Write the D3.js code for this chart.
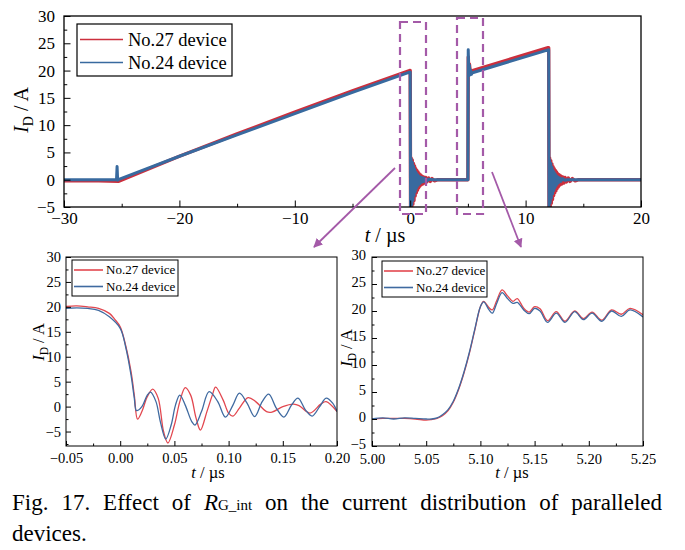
<!DOCTYPE html>
<html><head><meta charset="utf-8">
<script src="https://cdn.jsdelivr.net/npm/d3@7"></script>
<style>body{margin:0;background:#fff}svg{display:block}svg text{font-family:"Liberation Serif","Times New Roman",serif !important;fill:#000}</style>
</head><body><svg id="c" width="685" height="550" style="font-family:'Liberation Serif',serif"></svg>
<script>
// ---------- DATA ----------
const seriesNames = ["No.27 device", "No.24 device"];

// Top panel: t (µs), I_D (A)
const topT27 = [[-30,-0.2],[-27,-0.2],[-25.3,-0.3],[-20,4.3],[-15,8.4],[-10,12.4],[-5,16.3],[-0.05,20.0],
 [0,20.0],[0.03,-5],[0.08,4],[0.13,-5],[0.18,3.6],[0.23,-4.5],[0.28,3],[0.33,-3.8],[0.38,2.5],[0.43,-3],[0.48,2],
 [0.53,-2.4],[0.58,1.7],[0.63,-1.9],[0.68,1.4],[0.73,-1.5],[0.78,1.1],[0.83,-1.2],[0.88,0.9],[0.93,-1],[1,0.7],
 [1.08,-0.8],[1.16,0.5],[1.25,-0.6],[1.35,0.4],[1.45,-0.4],[1.6,0.3],[1.75,-0.3],[1.9,0.2],[2.1,-0.2],[2.4,0],[4.98,0],
 [5.0,0],[5.03,22.5],[5.08,19.5],[5.13,21.2],[5.2,19.9],[5.4,20.0],[11.95,24.2],
 [12.0,24.2],[12.03,-5],[12.08,4],[12.13,-5],[12.18,3.5],[12.23,-4.3],[12.28,2.9],[12.33,-3.6],[12.38,2.4],[12.43,-2.9],
 [12.48,2],[12.53,-2.4],[12.58,1.7],[12.63,-2],[12.68,1.4],[12.73,-1.6],[12.78,1.1],[12.83,-1.3],[12.9,0.9],[12.97,-1],
 [13.05,0.7],[13.13,-0.8],[13.22,0.5],[13.32,-0.6],[13.42,0.4],[13.55,-0.4],[13.7,0.3],[13.85,-0.3],[14.05,0.2],[14.3,-0.2],[14.6,0],[20,0]];
const topT24 = [[-30,0],[-27,0],[-25.45,0],[-25.4,2.4],[-25.35,-0.1],[-25.3,0],[-20,4.3],[-15,8.2],[-10,12.1],[-5,16],[-0.05,19.7],
 [0,19.7],[0.03,-5],[0.08,3.8],[0.13,-4.6],[0.18,3.2],[0.23,-3.8],[0.28,2.5],[0.33,-2.9],[0.38,1.9],[0.43,-2.2],[0.48,1.4],
 [0.53,-1.6],[0.58,1.1],[0.63,-1.2],[0.68,0.8],[0.73,-0.9],[0.78,0.6],[0.83,-0.7],[0.88,0.5],[0.93,-0.5],[0.98,0.4],
 [1.05,-0.4],[1.12,0.3],[1.2,-0.3],[1.3,0.2],[1.45,-0.2],[1.6,0.1],[2,0],[4.98,0],
 [5.0,0],[5.03,23.8],[5.08,19],[5.13,21],[5.18,19.2],[5.23,20.1],[5.3,19.3],[5.4,19.6],[11.95,23.8],
 [12.0,23.8],[12.03,-5],[12.08,3.6],[12.13,-4.2],[12.18,3],[12.23,-3.4],[12.28,2.3],[12.33,-2.6],[12.38,1.7],[12.43,-2],
 [12.48,1.3],[12.53,-1.5],[12.58,1],[12.63,-1.1],[12.68,0.7],[12.73,-0.8],[12.8,0.5],[12.87,-0.5],[12.95,0.3],[13.05,-0.3],
 [13.2,0.2],[13.4,-0.1],[13.6,0],[20,0]];

// Bottom-left panel (turn-off)
const offT27 = [[-0.05,20.1],[-0.04,20.2],[-0.03,20],[-0.02,19.7],[-0.01,18.7],[-0.005,17.5],[0,16],[0.005,12.3],[0.01,7],
 [0.013,2.3],[0.016,-2.5],[0.02,-1],[0.025,2],[0.03,3.5],[0.035,1.7],[0.04,-5],[0.044,-7.3],[0.05,-3.7],[0.055,1],
 [0.06,3.8],[0.065,2.3],[0.07,-2.3],[0.074,-4.7],[0.08,-1],[0.085,2.3],[0.088,3.9],[0.095,1.3],[0.1,-1.3],[0.104,-1.9],
 [0.11,-0.3],[0.118,1.8],[0.125,1],[0.135,-1],[0.14,-1.1],[0.15,0],[0.16,0.5],[0.165,0.2],[0.175,-1.3],[0.185,0.5],
 [0.19,1],[0.2,-1]];
const offT24 = [[-0.05,19.7],[-0.04,19.8],[-0.03,19.7],[-0.02,19.3],[-0.01,18],[0,15.7],[0.005,12],[0.01,6.3],[0.013,1.7],
 [0.015,-0.8],[0.02,0],[0.025,2.3],[0.028,2.9],[0.033,1],[0.037,-3],[0.042,-6.5],[0.047,-3.7],[0.051,0.3],[0.055,2.3],
 [0.06,0.3],[0.066,-3],[0.069,-3.7],[0.075,-1],[0.082,3],[0.09,1],[0.097,-2.1],[0.104,0.3],[0.11,2.7],[0.117,0.7],
 [0.124,-2],[0.131,1],[0.137,2.5],[0.144,-0.3],[0.151,-2.1],[0.158,0.3],[0.164,1.7],[0.171,-0.7],[0.177,-1.9],
 [0.184,0],[0.19,1.7],[0.196,0.7],[0.2,-1]];

// Bottom-right panel (turn-on)
const onT27 = [[5.00,0],[5.01,0.1],[5.02,0.1],[5.03,0.1],[5.04,0],[5.05,-0.2],[5.055,-0.1],[5.06,0.1],[5.065,0.6],
 [5.07,1.5],[5.075,3.1],[5.08,5.5],[5.085,8.6],[5.09,12.3],[5.095,16.6],[5.1,20.8],[5.103,21.8],[5.108,20.6],
 [5.111,20.2],[5.115,21.9],[5.12,23.9],[5.125,22.8],[5.13,21.8],[5.134,22.3],[5.14,20.5],[5.145,19.8],[5.15,20.8],
 [5.155,20.4],[5.162,18.2],[5.17,19.9],[5.178,18.1],[5.187,20.0],[5.195,18.6],[5.203,19.8],[5.212,18.3],[5.221,20.2],
 [5.23,19.4],[5.238,20.5],[5.25,19.3]];
const onT24 = [[5.00,0],[5.01,0.2],[5.02,0],[5.03,0.2],[5.04,0.1],[5.05,0],[5.055,0],[5.06,0.2],[5.065,0.8],
 [5.07,1.7],[5.075,3.3],[5.08,5.7],[5.085,8.8],[5.09,12.5],[5.095,16.8],[5.1,20.8],[5.103,21.7],[5.108,20.2],
 [5.111,19.6],[5.115,21.4],[5.12,23.4],[5.125,22.3],[5.13,21.4],[5.134,21.6],[5.14,20.2],[5.145,19.5],[5.15,20.5],
 [5.155,20.0],[5.162,17.9],[5.17,19.6],[5.178,17.9],[5.187,19.9],[5.195,18.4],[5.203,19.6],[5.212,18.1],[5.221,20.0],
 [5.23,19.0],[5.238,20.2],[5.25,18.9]];

const topXTicks = [-30,-20,-10,0,10,20];
const topYTicks = [-5,0,5,10,15,20,25,30];
const offXTicks = [-0.05,0,0.05,0.10,0.15,0.20];
const onXTicks = [5.00,5.05,5.10,5.15,5.20,5.25];
const botYTicksL = [-5,0,5,10,15,20,25,30];
const botYTicksR = [-5,0,5,10,15,20,25,30];
const captionWords = ["Fig.","17.","Effect","of","R","on","the","current","distribution","of","paralleled"];

// ---------- DRAW ----------
const FONT = "'Liberation Serif', 'Times New Roman', serif";
const svg = d3.select("#c");
const defs = svg.append("defs");
const PURPLE = "#a45aa8";

function panel(o) {
  const g = svg.append("g");
  const x = d3.scaleLinear().domain(o.xd).range([o.l, o.r]);
  const y = d3.scaleLinear().domain(o.yd).range([o.b, o.t]);
  const id = "clip" + o.name;
  defs.append("clipPath").attr("id", id).append("rect")
    .attr("x", o.l).attr("y", o.t).attr("width", o.r - o.l).attr("height", o.b - o.t);
  const line = d3.line().x(d => x(d[0])).y(d => y(d[1])).curve(o.curve || d3.curveLinear);
  const pg = g.append("g").attr("clip-path", `url(#${id})`);
  o.series.forEach(s => {
    pg.append("path").attr("d", line(s.data)).attr("fill", "none")
      .attr("stroke", s.color).attr("stroke-width", s.w).attr("stroke-linejoin", "round");
  });
  // axes
  g.append("g").attr("transform", `translate(0,${o.b})`)
    .call(d3.axisBottom(x).tickValues(o.xt).tickSize(-o.tk).tickPadding(o.tp).tickFormat(o.xf));
  g.append("g").attr("transform", `translate(0,${o.b})`)
    .call(d3.axisBottom(x).tickValues(o.xm).tickSize(-o.tk / 2).tickFormat(""));
  g.append("g").attr("class", "yax").attr("transform", `translate(${o.l},0)`)
    .call(d3.axisLeft(y).tickValues(o.yt).tickSize(-o.tk).tickPadding(o.tpy).tickFormat(d3.format("d")));
  g.append("g").attr("transform", `translate(${o.l},0)`)
    .call(d3.axisLeft(y).tickValues(o.ym).tickSize(-o.tk / 2).tickFormat(""));
  g.selectAll("g").attr("font-family", null);
  g.selectAll(".domain").remove();
  g.selectAll(".tick line").attr("stroke", "#000").attr("stroke-width", 1);
  g.selectAll(".tick text").attr("font-size", o.fs).style("font-family", FONT).attr("fill", "#000");
  if (o.ydy) g.selectAll(".yax .tick text").attr("dy", o.ydy);
  g.append("rect").attr("x", o.l).attr("y", o.t).attr("width", o.r - o.l).attr("height", o.b - o.t)
    .attr("fill", "none").attr("stroke", "#000").attr("stroke-width", o.fw);
  // y label
  const yl = g.append("text").attr("transform", `translate(${o.ylx},${o.yly}) rotate(-90)`)
    .attr("text-anchor", "middle").attr("font-size", o.lfs).style("font-family", FONT);
  yl.append("tspan").attr("font-style", "italic").text("I");
  yl.append("tspan").attr("font-size", o.lfs * 0.7).attr("dy", o.lfs * 0.25).text("D");
  yl.append("tspan").attr("dy", -o.lfs * 0.25).text(" / A");
  const xl = g.append("text").attr("x", o.xlx).attr("y", o.xly).attr("text-anchor", "middle")
    .attr("font-size", o.lfs).style("font-family", FONT);
  xl.append("tspan").attr("font-style", "italic").text("t");
  xl.append("tspan").text(" / \u00b5s");
  // legend
  const L = o.leg;
  g.append("rect").attr("x", L.x).attr("y", L.y).attr("width", L.w).attr("height", L.h)
    .attr("fill", "#fff").attr("stroke", "#000").attr("stroke-width", L.sw);
  o.series.forEach((s, i) => {
    const yy = L.y + L.r0 + i * L.dy;
    g.append("line").attr("x1", L.lx1).attr("x2", L.lx2).attr("y1", yy).attr("y2", yy)
      .attr("stroke", s.lc || s.color).attr("stroke-width", L.lw);
    g.append("text").attr("x", L.tx).attr("y", yy).attr("dy", "0.33em").attr("font-size", L.fs)
      .style("font-family", FONT).text(seriesNames[i]);
  });
  return {x, y};
}

const RED_T = "#cc2f3d", BLUE_T = "#386a9f";
const RED_B = "#e2474f", BLUE_B = "#3f6aa0";

panel({
  name: "top", l: 64, r: 641, t: 16, b: 207, xd: [-30, 20], yd: [-5, 30],
  xt: topXTicks, xm: [-25, -15, -5, 5, 15], yt: topYTicks, ym: d3.range(-2.5, 30, 5),
  xf: d3.format("d"), tk: 6.5, tp: 5, tpy: 9, fs: 17, fw: 1.3, lfs: 20,
  ylx: 28, yly: 110, xlx: 385, xly: 242,
  series: [{data: topT27, color: RED_T, w: 3.4}, {data: topT24, color: BLUE_T, w: 3.0}],
  leg: {x: 77, y: 24, w: 155, h: 52, sw: 1.2, r0: 15.5, dy: 23, lx1: 80, lx2: 123, lw: 1.6, tx: 128, fs: 18.5}
});

panel({
  name: "off", l: 66, r: 337, t: 257, b: 446, xd: [-0.05, 0.20], yd: [-7.9, 30],
  xt: offXTicks, xm: [-0.025, 0.025, 0.075, 0.125, 0.175], yt: botYTicksL, ym: d3.range(-7.5, 30, 5),
  xf: d3.format(".2f"), tk: 5, tp: 7, tpy: 5, fs: 14.5, fw: 1, lfs: 16.5,
  ylx: 44, yly: 342, xlx: 208, xly: 478, curve: d3.curveCatmullRom,
  series: [{data: offT27, color: RED_B, w: 1.3}, {data: offT24, color: BLUE_B, w: 1.3}],
  leg: {x: 72, y: 260, w: 106, h: 36, sw: 1, r0: 10, dy: 16.5, lx1: 74, lx2: 103, lw: 1.6, tx: 106, fs: 13}
});

panel({
  name: "on", l: 372, r: 643, t: 257, b: 446, xd: [5.0, 5.25], yd: [-5, 30],
  xt: onXTicks, xm: [5.025, 5.075, 5.125, 5.175, 5.225], yt: botYTicksR, ym: d3.range(-2.5, 30, 5),
  xf: d3.format(".2f"), tk: 5, tp: 8, tpy: 6, ydy: "0.2em", fs: 14.5, fw: 1, lfs: 16.5,
  ylx: 352, yly: 348, xlx: 512, xly: 478, curve: d3.curveCatmullRom,
  series: [{data: onT27, color: RED_B, w: 1.3}, {data: onT24, color: BLUE_B, w: 1.3}],
  leg: {x: 382, y: 261, w: 105, h: 36, sw: 1, r0: 10, dy: 16.5, lx1: 384, lx2: 413, lw: 1.6, tx: 416, fs: 13}
});

// zoom boxes and arrows
[[400, 22, 426, 214], [457, 18, 483, 214]].forEach(b => {
  svg.append("rect").attr("x", b[0]).attr("y", b[1]).attr("width", b[2] - b[0]).attr("height", b[3] - b[1])
    .attr("fill", "none").attr("stroke", PURPLE).attr("stroke-width", 2.2).attr("stroke-dasharray", "8,5");
});
defs.append("marker").attr("id", "ah").attr("viewBox", "0 0 10 10").attr("refX", 9).attr("refY", 5)
  .attr("markerWidth", 5).attr("markerHeight", 5).attr("orient", "auto")
  .append("path").attr("d", "M0,0 L10,5 L0,10 z").attr("fill", PURPLE);
[[395, 168, 314, 247], [492, 172, 521, 247]].forEach(a => {
  svg.append("line").attr("x1", a[0]).attr("y1", a[1]).attr("x2", a[2]).attr("y2", a[3])
    .attr("stroke", PURPLE).attr("stroke-width", 1.8).attr("marker-end", "url(#ah)");
});

// caption (justified first line)
const cap = svg.append("g").attr("font-size", 23).style("font-family", FONT);
const groups = captionWords.map(w => {
  const t = cap.append("text").attr("y", 510).style("font-family", FONT);
  if (w === "R") {
    t.append("tspan").attr("font-style", "italic").text("R");
    t.append("tspan").attr("font-size", 15).text("G_int");
  } else t.text(w);
  return t;
});
const widths = groups.map(t => t.node().getComputedTextLength());
const total = widths.reduce((a, b) => a + b, 0);
const gap = (662 - 12 - total) / (groups.length - 1);
let cx = 12;
groups.forEach((t, i) => { t.attr("x", cx); cx += widths[i] + gap; });
cap.append("text").attr("x", 12).attr("y", 541).style("font-family", FONT).text("devices.");
</script></body></html>
